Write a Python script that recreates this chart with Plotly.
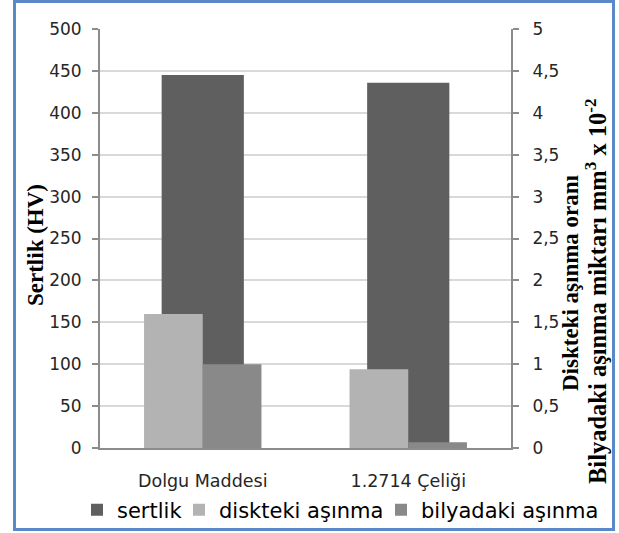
import plotly.graph_objects as go

# Hardness and wear results for the two samples
categories = ["Dolgu Maddesi", "1.2714 Çeliği"]
sertlik = [445, 436]          # Sertlik (HV), left axis
diskteki = [1.6, 0.94]        # diskteki aşınma oranı, right axis
bilyadaki = [1.0, 0.07]       # bilyadaki aşınma miktarı, right axis

left_ticks = list(range(0, 501, 50))
right_ticks = [0, 0.5, 1, 1.5, 2, 2.5, 3, 3.5, 4, 4.5, 5]

W, H = 619, 533
L, R, T, B = 100, 511, 29, 448          # plot area in pixels


def px(x):
    return (x - L) / (R - L)


def py(y):
    return (B - y) / (B - T)


tick_font = dict(family="DejaVu Sans", size=17, color="#262626")
cat_font = dict(family="DejaVu Sans", size=17.5, color="#262626")
title_font = dict(family="Liberation Serif", size=23, color="#000000", weight="bold")
title_font2 = dict(family="Liberation Serif", size=24.5, color="#000000", weight="bold")
legend_font = dict(family="DejaVu Sans", size=21, color="#000000")
axis_grey = "#8c8c8c"

fig = go.Figure()

fig.add_trace(go.Bar(
    name="sertlik", x=categories, y=sertlik, yaxis="y", legend="legend",
    marker=dict(color="#5f5f5f", line=dict(width=0)),
    width=0.4, offset=-0.2,
))
fig.add_trace(go.Bar(
    name="diskteki aşınma", x=categories, y=diskteki, yaxis="y2", legend="legend2",
    marker=dict(color="#b3b3b3", line=dict(width=0)),
    width=0.2857, offset=-0.2857,
))
fig.add_trace(go.Bar(
    name="bilyadaki aşınma", x=categories, y=bilyadaki, yaxis="y2", legend="legend3",
    marker=dict(color="#898989", line=dict(width=0)),
    width=0.2857, offset=0.0,
))


def legend_box(left_px):
    return dict(
        orientation="h", xref="container", yref="container",
        x=left_px / W, xanchor="left", y=1 - 510 / H, yanchor="middle",
        font=legend_font, itemwidth=30, bgcolor="rgba(0,0,0,0)", borderwidth=0,
    )


fig.update_layout(
    width=W, height=H,
    margin=dict(l=L, r=W - R, t=T, b=H - B, pad=0, autoexpand=False),
    paper_bgcolor="white", plot_bgcolor="white",
    barmode="overlay",
    separators=",.",
    showlegend=True,
    legend=legend_box(77),
    legend2=legend_box(179),
    legend3=legend_box(381),
    xaxis=dict(
        type="category", range=[-0.5, 1.5],
        showline=True, linecolor=axis_grey, linewidth=2,
        ticks="", showgrid=False, zeroline=False,
        tickfont=cat_font, ticklabelstandoff=16,
    ),
    yaxis=dict(
        range=[0, 500], tickvals=left_ticks,
        showline=True, linecolor=axis_grey, linewidth=2,
        ticks="outside", ticklen=6, tickwidth=2, tickcolor=axis_grey,
        showgrid=True, gridcolor="#d9d9d9", gridwidth=2,
        zeroline=False, tickfont=tick_font, ticklabelstandoff=7,
    ),
    yaxis2=dict(
        range=[0, 5], tickvals=right_ticks, overlaying="y", side="right",
        showline=True, linecolor=axis_grey, linewidth=2,
        ticks="outside", ticklen=6, tickwidth=2, tickcolor=axis_grey,
        showgrid=False, zeroline=False, tickfont=tick_font, ticklabelstandoff=10,
    ),
    annotations=[
        dict(text="Sertlik (HV)", textangle=-90, showarrow=False,
             xref="paper", yref="paper", x=px(35), y=py(245),
             xanchor="center", yanchor="middle", font=title_font),
        dict(text="Diskteki aşınma oranı", textangle=-90, showarrow=False,
             xref="paper", yref="paper", x=px(570), y=py(283),
             xanchor="center", yanchor="middle", font=title_font),
        dict(text="Bilyadaki aşınma miktarı mm<sup>3</sup> x 10<sup>-2</sup>",
             textangle=-90, showarrow=False,
             xref="paper", yref="paper", x=px(596), y=py(291),
             xanchor="center", yanchor="middle", font=title_font2),
    ],
    shapes=[
        dict(type="rect", xref="paper", yref="paper", layer="above",
             x0=px(14.5), x1=px(613.5), y0=py(1.5), y1=py(529.5),
             line=dict(color="#5b88c8", width=3), fillcolor="rgba(0,0,0,0)"),
    ],
)

fig.write_html("out.html")
